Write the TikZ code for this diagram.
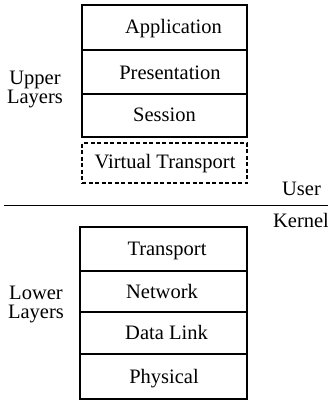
\documentclass[tikz,border=0pt]{standalone}
\usepackage{fontspec}
\setmainfont{Liberation Serif}
\begin{document}
\begin{tikzpicture}[x=1pt,y=-1pt,
  layer/.style={draw, line width=1.5pt, rectangle, inner sep=0pt},
  vlayer/.style={draw, line width=1.5pt, dash pattern=on 4pt off 2.5pt, rectangle, inner sep=0pt},
  txt/.style={anchor=base, inner sep=0pt, font=\fontsize{20.5}{22}\selectfont}]
\useasboundingbox (0,0) rectangle (328,402);

% upper layers (user space)
\node[layer, minimum width=165pt, minimum height=45pt] (app) at (164.5,27.5) {};
\node[layer, minimum width=165pt, minimum height=44pt] (pres) at (164.5,72) {};
\node[layer, minimum width=165pt, minimum height=43pt] (sess) at (164.5,115.5) {};
\node[vlayer, minimum width=165pt, minimum height=40pt] (vtrans) at (164.5,163) {};

\node[txt] (appt) at (173.5,33) {Application};
\node[txt] (prest) at (170,79) {Presentation};
\node[txt] (sesst) at (164.5,121) {Session};
\node[txt] (vtranst) at (165,168) {Virtual Transport};

% lower layers (kernel)
\node[layer, minimum width=167pt, minimum height=44pt] (trans) at (163.5,249) {};
\node[layer, minimum width=167pt, minimum height=41pt] (net) at (163.5,291.5) {};
\node[layer, minimum width=167pt, minimum height=42pt] (dl) at (163.5,333) {};
\node[layer, minimum width=167pt, minimum height=45pt] (phys) at (163.5,376.5) {};

\node[txt] (transt) at (167,255) {Transport};
\node[txt] (nett) at (162,298) {Network};
\node[txt] (dlt) at (166.5,339) {Data Link};
\node[txt] (physt) at (164,383) {Physical};

% side labels
\node[txt] (up1) at (35,84) {Upper};
\node[txt] (up2) at (35,103.5) {Layers};
\node[txt] (lo1) at (36,299) {Lower};
\node[txt] (lo2) at (36,318.5) {Layers};

% user/kernel boundary
\coordinate (bl) at (4,205.5);
\coordinate (br) at (328,205.5);
\draw[line width=1.7pt] (bl) -- (br);
\node[txt] (user) at (301.5,195) {User};
\node[txt] (kernel) at (301,227) {Kernel};
\end{tikzpicture}
\end{document}
